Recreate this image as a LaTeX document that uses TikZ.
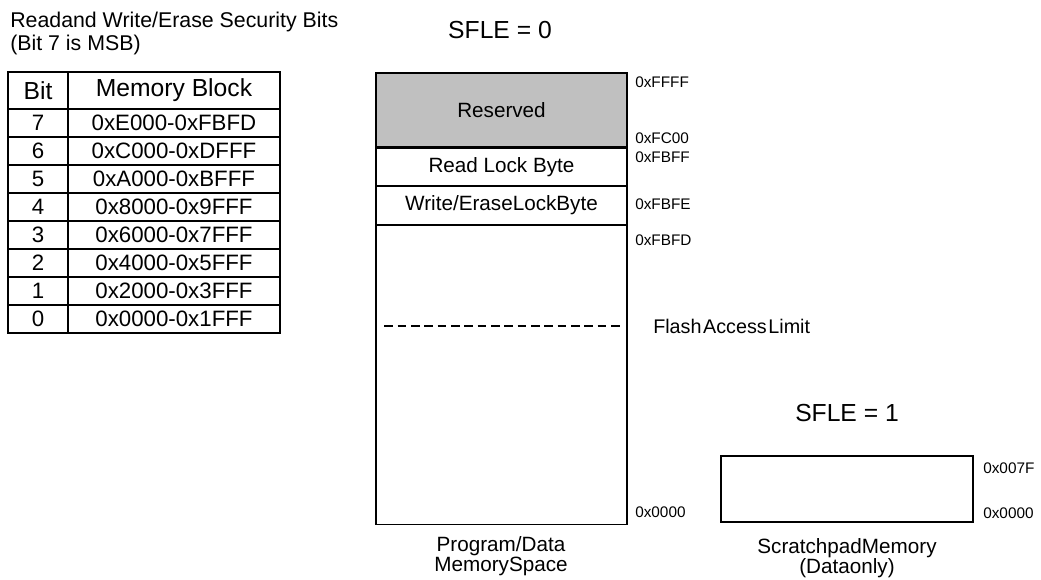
\documentclass[tikz,border=0pt]{standalone}
\usepackage{fontspec}
\setmainfont{Liberation Sans}
\newfontfamily\tightfont[WordSpace=0.3]{Liberation Sans}
\usetikzlibrary{positioning}
\definecolor{ResGray}{RGB}{192,192,192}

\begin{document}
\begin{tikzpicture}[x=0.75pt,y=-0.75pt,
  cell/.style={draw,line width=0.8pt,inner sep=0pt,minimum height=21pt,font=\fontsize{16.7}{17}\selectfont},
  headcell/.style={draw,line width=1.6pt,inner sep=0pt,minimum height=27.75pt,font=\fontsize{18.5}{19}\selectfont},
  membox/.style={draw,line width=0.9pt,inner sep=0pt,minimum width=188.25pt,font=\fontsize{15.5}{17}\selectfont},
  addr/.style={anchor=west,inner sep=0pt,font=\fontsize{11.5}{13}\selectfont},
  lbl/.style={inner sep=0pt,font=\fontsize{15.5}{15}\selectfont},
  big/.style={inner sep=0pt,font=\fontsize{18.5}{20}\selectfont}]
\useasboundingbox (0,0) rectangle (1041,580);

% security bits table
\node[lbl,anchor=west,font=\fontsize{16}{16}\selectfont] (title) at (10,22) {Readand Write/Erase Security Bits};
\node[lbl,anchor=west,font=\fontsize{16}{16}\selectfont] (msb) at (10,45) {(Bit 7 is MSB)};
\node[headcell,minimum width=45pt] (hbit) at (38,90.5) {Bit};
\node[headcell,minimum width=159pt] (hblock) at (174,90.5) {Memory Block};
\foreach \b/\r [count=\i from 0] in {7/0xE000-0xFBFD,6/0xC000-0xDFFF,5/0xA000-0xBFFF,4/0x8000-0x9FFF,3/0x6000-0x7FFF,2/0x4000-0x5FFF,1/0x2000-0x3FFF,0/0x0000-0x1FFF}{
  \node[cell,minimum width=45pt] (bit\b) at (38,123+28*\i) {\b};
  \node[cell,minimum width=159pt] (block\b) at (174,123+28*\i) {\r};
}

% program/data memory space
\node[big] (sfle0) at (500,30) {SFLE = 0};
\node[membox,fill=ResGray,minimum height=55.5pt] (reserved) at (501.5,110) {Reserved};
\node[membox,minimum height=27.75pt,below=0pt of reserved] (rlock) {Read Lock Byte};
\node[membox,minimum height=28.5pt,below=0pt of rlock] (wlock) {Write/EraseLockByte};
\node[membox,minimum height=224.25pt,below=0pt of wlock] (flash) {};
\node[addr] (aFFFF) at (635,82) {0xFFFF};
\node[addr] (aFC00) at (635,138) {0xFC00};
\node[addr] (aFBFF) at (635,157) {0xFBFF};
\node[addr] (aFBFE) at (635,204) {0xFBFE};
\node[addr] (aFBFD) at (635,240) {0xFBFD};
\node[addr] (a0000) at (635,512) {0x0000};
\node[lbl,anchor=west,font=\tightfont\fontsize{14.8}{15}\selectfont] (limit) at (653,326) {Flash Access Limit};
\draw[line width=0.9pt,dash pattern=on 6.5pt off 3.5pt] ([xshift=6.75pt]flash.west |- limit.west) -- ([xshift=-6pt]flash.east |- limit.west);
\node[lbl,align=center] (pmem) at (501,556) {Program/Data\\MemorySpace};

% scratchpad
\node[big] (sfle1) at (847,413) {SFLE = 1};
\node[membox,minimum width=189pt,minimum height=49.5pt] (scratch) at (847,489) {};
\node[addr] (a007F) at (983,468) {0x007F};
\node[addr] (s0000) at (983,513) {0x0000};
\node[lbl,align=center] (smem) at (847,558) {ScratchpadMemory\\(Dataonly)};
\end{tikzpicture}
\end{document}
